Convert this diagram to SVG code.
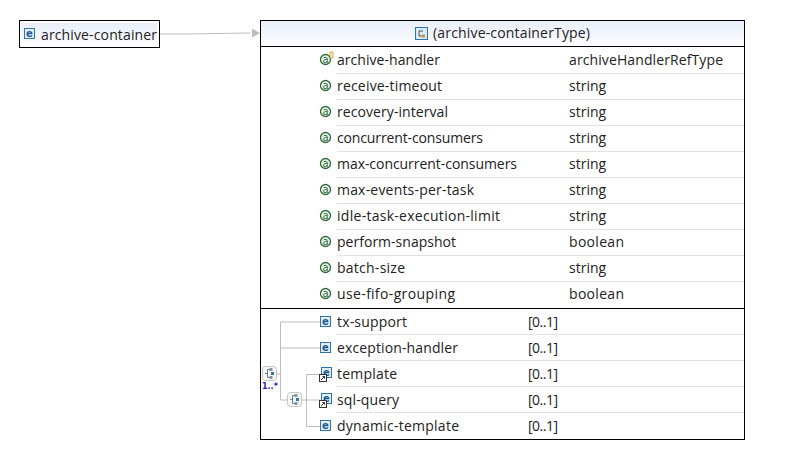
<svg xmlns="http://www.w3.org/2000/svg" width="804" height="467" viewBox="0 0 804 467">
<style>
text{font-family:"Open Sans","Noto Sans","Liberation Sans",sans-serif;font-size:14px;fill:#222}
.b{fill:none;stroke:#000;stroke-width:1}
.c{fill:none;stroke:#bdbdbd;stroke-width:1}
.r{stroke:#e2e2e2;stroke-width:1}
.ei{fill:#e4eef8;stroke:#2f74ad;stroke-width:1}
.et{font-family:"DejaVu Sans",sans-serif;font-size:10px;font-weight:bold;fill:#1d5a91;text-anchor:middle}
.ac{fill:#eef5ee;stroke:#2f6b3a;stroke-width:1.3}
.at{font-family:"DejaVu Sans",sans-serif;font-size:10px;fill:#2f6b3a;text-anchor:middle}
.cp{fill:#f6f6f6;stroke:#c4c4c4;stroke-width:1}
.cpi{fill:none;stroke:#6b7a88;stroke-width:1}
</style>
<defs>
<linearGradient id="g" x1="0" y1="0" x2="0" y2="1"><stop offset="0" stop-color="#e8eef9"/><stop offset="1" stop-color="#fdfdff"/></linearGradient>
<g id="e"><rect class="ei" x="0.5" y="0.5" width="10" height="10"/><text class="et" x="5.500" y="9">e</text></g>
<g id="a"><circle class="ac" cx="5.500" cy="5.500" r="5"/><text class="at" x="5.500" y="8.500">a</text></g>
<g id="seq"><rect class="cp" x="0.500" y="0.500" width="14" height="14" rx="3"/><path class="cpi" d="M3 7.500H5.500M5.500 3.500V11.500M5.500 3.500H8M5.500 11.500H8"/><rect x="7.500" y="2" width="3" height="3" fill="#8a96a3"/><rect x="7.500" y="10" width="3" height="3" fill="#8a96a3"/><rect x="9" y="6" width="3" height="3" fill="#2f74ad"/></g>
<g id="ref"><rect x="0.500" y="0.500" width="7" height="7" fill="#fff" stroke="#333"/><path d="M2 6L5.500 2.500M3.500 2.500H5.500V4.500" fill="none" stroke="#333"/></g>
</defs>

<g id="node-archive-container">
<rect x="19.500" y="20.500" width="140" height="27" fill="#fff" stroke="#000"/>
<rect x="21" y="23" width="136" height="23" fill="url(#g)"/>
<use href="#e" x="24" y="28"/>
<text x="41" y="40" textLength="116">archive-container</text>
</g>

<g id="node-archive-containerType">
<rect x="260.500" y="20.500" width="484" height="419" style="fill:#fff;stroke:#000"/>
<rect x="261" y="21" width="483" height="25.500" fill="url(#g)"/>
<path class="b" d="M261 46.500H744M261 308.500H744"/>
<rect x="415.500" y="27.500" width="12" height="12" fill="#dceaf6" stroke="#2f74ad"/>
<path d="M419 31V36H422M419 31H423" fill="none" stroke="#555"/><rect x="422" y="34.500" width="3" height="3" fill="#c69a2a"/>
<text x="433" y="38" textLength="157">(archive-containerType)</text>
</g>

<g id="connectors">
<path class="c" d="M160 34H185L250 33"/>
<path d="M252 28.500L260 33L252 37.500Z" fill="#bdbdbd"/>
<path class="c" d="M280.500 322H320M280.500 348H320M280.500 322V400M277 374H280.500M280.500 400H288M302 400H320M306.500 374.500V426M306.500 374.500H320M306.500 426.500H320"/>
</g>

<g id="attributes">
<path class="r" d="M337 73.500H744M337 99.500H744M337 125.500H744M337 151.500H744M337 177.500H744M337 203.500H744M337 229.500H744M337 255.500H744M337 281.500H744"/>
<use href="#a" x="320" y="54"/>
<rect x="330" y="52" width="3" height="6" fill="#f3e7b0" stroke="#c69a2a" stroke-width="0.7"/>
<use href="#a" x="320" y="80"/>
<use href="#a" x="320" y="106"/>
<use href="#a" x="320" y="132"/>
<use href="#a" x="320" y="158"/>
<use href="#a" x="320" y="184"/>
<use href="#a" x="320" y="210"/>
<use href="#a" x="320" y="236"/>
<use href="#a" x="320" y="262"/>
<use href="#a" x="320" y="288"/>
<text x="337" y="65" textLength="103">archive-handler</text><text x="569" y="65" textLength="154">archiveHandlerRefType</text>
<text x="337" y="91" textLength="105">receive-timeout</text><text x="569" y="91">string</text>
<text x="337" y="117" textLength="111">recovery-interval</text><text x="569" y="117">string</text>
<text x="337" y="143" textLength="146">concurrent-consumers</text><text x="569" y="143">string</text>
<text x="337" y="169" textLength="180">max-concurrent-consumers</text><text x="569" y="169">string</text>
<text x="337" y="195" textLength="137">max-events-per-task</text><text x="569" y="195">string</text>
<text x="337" y="221" textLength="163">idle-task-execution-limit</text><text x="569" y="221">string</text>
<text x="337" y="247" textLength="119">perform-snapshot</text><text x="569" y="247" textLength="55">boolean</text>
<text x="337" y="273" textLength="68">batch-size</text><text x="569" y="273">string</text>
<text x="337" y="299" textLength="118">use-fifo-grouping</text><text x="569" y="299" textLength="55">boolean</text>
</g>

<g id="elements">
<path class="r" d="M337 334.500H744M337 360.500H744M337 386.500H744M337 412.500H744"/>
<use href="#e" x="320" y="316"/>
<use href="#e" x="320" y="342"/>
<use href="#e" x="321" y="367"/>
<use href="#e" x="321" y="393"/>
<use href="#e" x="320" y="420"/>
<use href="#ref" x="319" y="374"/>
<use href="#ref" x="319" y="400"/>
<text x="337" y="327" textLength="70">tx-support</text><text x="528" y="327" textLength="30">[0..1]</text>
<text x="337" y="353" textLength="121">exception-handler</text><text x="528" y="353" textLength="30">[0..1]</text>
<text x="337" y="379" textLength="60">template</text><text x="528" y="379" textLength="30">[0..1]</text>
<text x="337" y="405" textLength="62">sql-query</text><text x="528" y="405" textLength="30">[0..1]</text>
<text x="337" y="431" textLength="122">dynamic-template</text><text x="528" y="431" textLength="30">[0..1]</text>
</g>

<g id="compositor-outer">
<use href="#seq" x="262" y="366"/>
<text x="262" y="389" style="font-family:'DejaVu Sans',sans-serif;font-size:8px;font-weight:bold;fill:#2222cc">1..*</text>
</g>
<g id="compositor-inner">
<use href="#seq" x="287" y="392"/>
</g>
</svg>
